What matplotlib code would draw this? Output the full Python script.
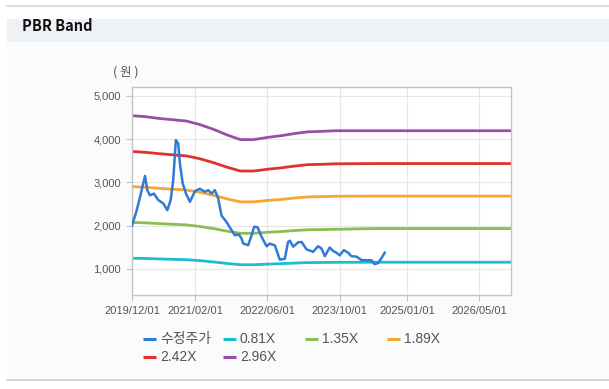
import matplotlib.pyplot as plt
import matplotlib.dates as mdates
from matplotlib.patches import Rectangle
from matplotlib.lines import Line2D
from matplotlib.ticker import FuncFormatter, FixedLocator
import numpy as np
import pandas as pd

plt.rcParams['font.family'] = ['Liberation Sans', 'Noto Sans CJK KR', 'DejaVu Sans']

# adjusted share price (수정주가)
PRICE_DATES = [
    '2019-12-01', '2020-01-02', '2020-01-24', '2020-02-27', '2020-03-13',
    '2020-03-31', '2020-04-27', '2020-05-26', '2020-06-29', '2020-07-26',
    '2020-08-18', '2020-09-04', '2020-09-22', '2020-10-08', '2020-10-19',
    '2020-11-07', '2020-11-29', '2020-12-26', '2021-01-29', '2021-03-03',
    '2021-04-06', '2021-04-28', '2021-05-21', '2021-06-12', '2021-07-05',
    '2021-07-27', '2021-08-30', '2021-10-03', '2021-10-25', '2021-11-21',
    '2021-12-09', '2021-12-20', '2022-01-23', '2022-02-15', '2022-03-04',
    '2022-03-27', '2022-04-23', '2022-05-27', '2022-06-18', '2022-07-22',
    '2022-08-24', '2022-09-27', '2022-10-19', '2022-10-31', '2022-11-22',
    '2022-12-26', '2023-01-18', '2023-02-20', '2023-04-06', '2023-05-09',
    '2023-06-01', '2023-06-24', '2023-07-27', '2023-08-19', '2023-09-10',
    '2023-10-03', '2023-10-30', '2023-11-28', '2023-12-20', '2024-01-23',
    '2024-02-26', '2024-03-31', '2024-05-03', '2024-05-25', '2024-06-17',
    '2024-07-10', '2024-08-01']
PRICE = [
    2000, 2355, 2660, 3150, 2820, 2700, 2740, 2590, 2510, 2355,
    2590, 3050, 3980, 3900, 3440, 2975, 2740, 2550, 2800, 2850,
    2780, 2820, 2740, 2820, 2620, 2230, 2080, 1890, 1775, 1790,
    1700, 1585, 1545, 1775, 1970, 1960, 1740, 1520, 1580, 1540,
    1210, 1230, 1620, 1650, 1510, 1610, 1620, 1450, 1390, 1520,
    1470, 1290, 1490, 1410, 1370, 1310, 1430, 1370, 1290, 1280,
    1200, 1195, 1195, 1105, 1130, 1245, 1370]

# PBR band lines
BAND_DATES = [
    '2019-12-01', '2020-03-01', '2020-06-01', '2020-09-01', '2020-12-01',
    '2021-03-01', '2021-06-01', '2021-09-01', '2021-12-01', '2022-03-01',
    '2022-06-01', '2022-09-01', '2022-12-01', '2023-03-01', '2023-06-01',
    '2023-09-01', '2024-06-01', '2026-12-01']
BAND_081 = [1243, 1237, 1226, 1217, 1209, 1187, 1157, 1122, 1092, 1092,
            1106, 1116, 1130, 1141, 1144, 1148, 1150, 1150]
BAND_135 = [2072, 2061, 2044, 2029, 2016, 1979, 1929, 1870, 1820, 1820,
            1843, 1860, 1883, 1902, 1906, 1913, 1930, 1930]
BAND_189 = [2901, 2886, 2861, 2841, 2822, 2771, 2701, 2618, 2548, 2548,
            2580, 2604, 2637, 2663, 2669, 2678, 2682, 2682]
BAND_242 = [3715, 3695, 3664, 3637, 3613, 3548, 3458, 3352, 3262, 3262,
            3303, 3335, 3376, 3410, 3417, 3429, 3435, 3435]
BAND_296 = [4545, 4520, 4480, 4450, 4420, 4340, 4230, 4100, 3990, 3990,
            4040, 4080, 4130, 4170, 4180, 4195, 4195, 4195]

BAND_LABELS = ['0.81X', '1.35X', '1.89X', '2.42X', '2.96X']
BAND_COLORS = ['#1cbcd2', '#8cbd50', '#f7a534', '#e0312b', '#9a4fa7']
PRICE_LABEL = '수정주가'
PRICE_COLOR = '#2f7bd5'

X_TICKS = ['2019-12-01', '2021-02-01', '2022-06-01', '2023-10-01',
           '2025-01-01', '2026-05-01']
Y_TICKS = [1000, 2000, 3000, 4000, 5000]


def fmt_thousands(v, pos):
    return '{:,}'.format(int(v))


def px(x, y):
    # pixel position -> figure fraction
    return x / 609, 1 - y / 389


def draw_legend(fig, handles):
    # legend laid out by hand, row-major, 4 per row
    slots = [(143, 339), (223, 339), (305, 339), (387, 339),
             (143, 357), (223, 357)]
    for h, (x, y) in zip(handles, slots):
        x0, y0 = px(x, y)
        x1, _ = px(x + 13, y)
        fig.add_artist(Line2D([x0, x1], [y0, y0], transform=fig.transFigure,
                              color=h.get_color(), lw=2.2,
                              solid_capstyle='butt'))
        tx, _ = px(x + 17, y)
        fig.text(tx, y0, h.get_label(), fontsize=10, color='#555555',
                 ha='left', va='center')


def main():
    fig = plt.figure(figsize=(6.09, 3.89), dpi=100)
    fig.patch.set_facecolor('white')

    # panel background and header
    fig.add_artist(Rectangle(px(7, 380), 1, 338 / 389,
                             transform=fig.transFigure,
                             facecolor='#fafbfc', edgecolor='none', zorder=0))
    fig.add_artist(Rectangle(px(7, 42), 1, 23 / 389,
                             transform=fig.transFigure,
                             facecolor='#eef2f7', edgecolor='none', zorder=0))
    fig.add_artist(Line2D([7 / 609, 1], [1 - 6 / 389, 1 - 6 / 389],
                          transform=fig.transFigure, color='#d6d6d6', lw=1.2))
    fig.add_artist(Line2D([7 / 609, 1], [1 - 380 / 389, 1 - 380 / 389],
                          transform=fig.transFigure, color='#cfcfcf', lw=1.2))
    tx, ty = px(22, 26)
    fig.text(tx, ty, 'PBR Band', fontsize=10.5,
             fontweight='bold', family=['Noto Sans CJK KR', 'DejaVu Sans'],
             va='center', ha='left', color='#111111')

    ax = fig.add_axes([132 / 609, 1 - 295 / 389, 379 / 609, 208 / 389])
    ax.set_facecolor('white')

    bands = [BAND_081, BAND_135, BAND_189, BAND_242, BAND_296]
    bdates = pd.to_datetime(BAND_DATES)
    handles = []
    for vals, lab, col in zip(bands, BAND_LABELS, BAND_COLORS):
        h, = ax.plot(bdates, vals, color=col, lw=2.0, label=lab,
                     solid_capstyle='butt')
        handles.append(h)
    hp, = ax.plot(pd.to_datetime(PRICE_DATES), PRICE, color=PRICE_COLOR,
                  lw=1.8, label=PRICE_LABEL, zorder=5)

    ax.set_xlim(pd.Timestamp('2019-12-01'), pd.Timestamp('2026-12-01'))
    ax.set_ylim(391, 5208)

    xt = mdates.date2num(pd.to_datetime(X_TICKS))
    ax.xaxis.set_major_locator(FixedLocator(xt))
    ax.set_xticklabels([t.replace('-', '/') for t in X_TICKS])
    ax.yaxis.set_major_locator(FixedLocator(Y_TICKS))
    ax.yaxis.set_major_formatter(FuncFormatter(fmt_thousands))

    ax.grid(True, color='#e6e6e6', lw=0.8)
    ax.set_axisbelow(True)
    for s in ax.spines.values():
        s.set_color('#c4c4c4')
        s.set_linewidth(1.0)
    ax.tick_params(axis='both', colors='#c4c4c4', labelcolor='#555555',
                   labelsize=8, length=4, width=0.8)
    ax.tick_params(axis='x', pad=4)
    ax.tick_params(axis='y', pad=4)

    lx, ly = px(126, 72)
    fig.text(lx, ly, '( 원 )', fontsize=9, color='#555555',
             family=['Noto Sans CJK KR', 'DejaVu Sans'],
             ha='center', va='center')

    draw_legend(fig, [hp] + handles)

    fig.savefig('out.png', dpi=100)


main()
